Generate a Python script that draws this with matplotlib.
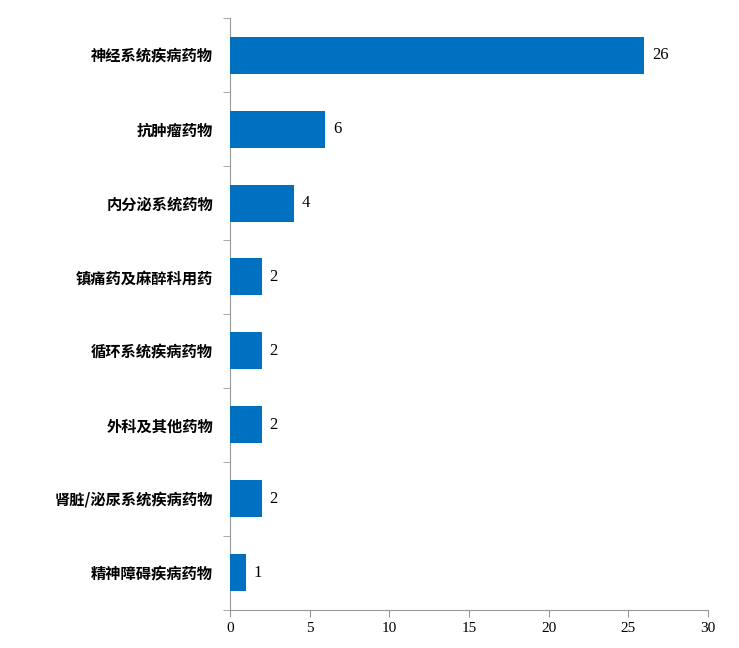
import matplotlib
matplotlib.use("Agg")
import matplotlib.pyplot as plt
import numpy as np

categories = ["神经系统疾病药物", "抗肿瘤药物", "内分泌系统药物", "镇痛药及麻醉科用药",
              "循环系统疾病药物", "外科及其他药物", "肾脏/泌尿系统疾病药物", "精神障碍疾病药物"]
values = [26, 6, 4, 2, 2, 2, 2, 1]
xticks = [0, 5, 10, 15, 20, 25, 30]

plt.rcParams['font.family'] = ['Noto Sans CJK SC', 'DejaVu Sans']
fig = plt.figure(figsize=(7.39, 6.48), dpi=100)
ax = fig.add_axes([0.311, 0.059, 0.647, 0.913])
n = len(categories)
y = np.arange(n)
ax.barh(y, values, height=0.5, color='#0070C0', zorder=3)
ax.set_ylim(n - 0.5, -0.5)
ax.set_xlim(0, 30)
ax.set_xticks(xticks)
ax.set_xticklabels([str(t) for t in xticks], family='Liberation Serif', fontsize=11)
ax.set_yticks(y)
ax.set_yticklabels(categories, fontsize=11, fontweight='bold')
ax.tick_params(axis='y', length=0, pad=12)
ax.set_yticks(np.arange(n + 1) - 0.5, minor=True)
ax.tick_params(axis='y', which='minor', length=5, color='#999999')
ax.tick_params(axis='x', length=5, color='#999999')
for s in ['top', 'right']:
    ax.spines[s].set_visible(False)
for s in ['left', 'bottom']:
    ax.spines[s].set_color('#999999')
for yi, v in zip(y, values):
    ax.text(v + 0.5, yi, str(v), va='center', ha='left', family='Liberation Serif', fontsize=12)
fig.savefig("out.png", dpi=100)
